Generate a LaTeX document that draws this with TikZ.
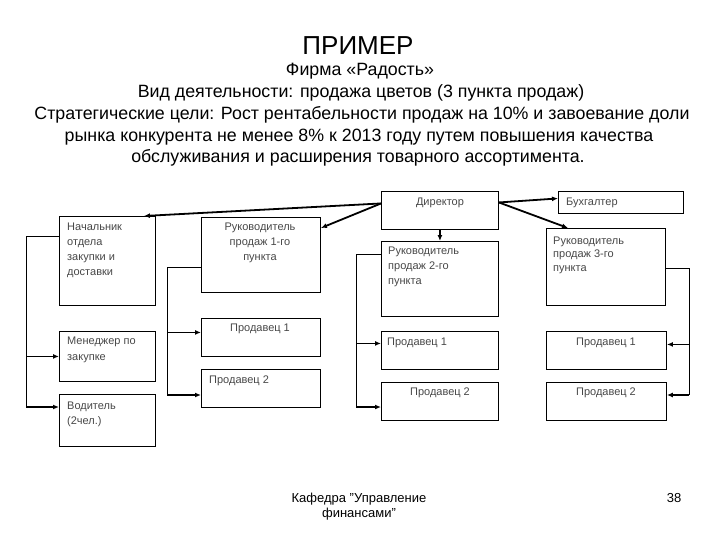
\documentclass[tikz,border=0pt]{standalone}
\usepackage{fontspec}
\setmainfont{Liberation Sans}
\usetikzlibrary{arrows.meta,calc}
\begin{document}
\begin{tikzpicture}[x=1pt,y=-1pt,
  box/.style={draw=black,line width=0.9pt,rectangle,inner sep=0pt,anchor=north west},
  btxt/.style={text=black!72,font=\fontsize{11}{15}\selectfont,inner sep=0pt},
  wire/.style={draw=black,line width=0.9pt},
  arr/.style={draw=black,line width=1.8pt,-{Latex[length=6pt,width=5pt]}},
  ttl/.style={font=\fontsize{17.8}{21.7}\selectfont,inner sep=0pt,anchor=base}]
\useasboundingbox (0,0) rectangle (720,540);
% titles
\node[font=\fontsize{26}{30}\selectfont,inner sep=0pt,anchor=base] (t0) at (358,55) {ПРИМЕР};
\node[ttl] (t1) at (360,76) {Фирма «Радость»};
\node[ttl] (t2) at (361,98) {Вид деятельности: продажа цветов (3 пункта продаж)};
\node[ttl] (t3) at (362,120) {Стратегические цели: Рост рентабельности продаж на 10\% и завоевание доли};
\node[ttl] (t4) at (359,142) {рынка конкурента не менее 8\% к 2013 году путем повышения качества};
\node[ttl] (t5) at (358,163) {обслуживания и расширения товарного ассортимента.};
% boxes
\node[box,minimum width=117pt,minimum height=38pt] (dir) at (381,191) {};
\node[box,minimum width=125pt,minimum height=22pt] (buh) at (558,191) {};
\node[box,minimum width=96pt,minimum height=89pt] (nach) at (59,216) {};
\node[box,minimum width=119pt,minimum height=75pt] (r1) at (201,217) {};
\node[box,minimum width=117pt,minimum height=75pt] (r2) at (381,241) {};
\node[box,minimum width=119pt,minimum height=77pt] (r3) at (546,228) {};
\node[box,minimum width=96pt,minimum height=50pt] (men) at (59,331) {};
\node[box,minimum width=96pt,minimum height=52pt] (vod) at (59,394) {};
\node[box,minimum width=119pt,minimum height=38pt] (s21) at (201,318) {};
\node[box,minimum width=119pt,minimum height=38pt] (s22) at (201,369) {};
\node[box,minimum width=117pt,minimum height=38pt] (s31) at (381,331) {};
\node[box,minimum width=117pt,minimum height=38pt] (s32) at (381,382) {};
\node[box,minimum width=120pt,minimum height=38pt] (s41) at (546,331) {};
\node[box,minimum width=120pt,minimum height=38pt] (s42) at (546,382) {};
% box texts (multi-line nodes: base = baseline of last line)
\node[btxt,anchor=base] (tdir) at (440,206) {Директор};
\node[btxt,anchor=base west] (tbuh) at (566,206) {Бухгалтер};
\node[btxt,anchor=base west,align=left] (tnach) at (67,275) {Начальник\\отдела\\закупки и\\доставки};
\node[btxt,anchor=base,align=center] (tr1) at (260,260) {Руководитель\\продаж 1-го\\пункта};
\node[btxt,anchor=base west,align=left] (tr2) at (388,284) {Руководитель\\продаж 2-го\\пункта};
\node[btxt,anchor=base west,align=left,font=\fontsize{11}{13.5}\selectfont] (tr3) at (553,271) {Руководитель\\продаж 3-го\\пункта};
\node[btxt,anchor=base west,align=left,font=\fontsize{11}{16}\selectfont] (tmen) at (67,360) {Менеджер по\\закупке};
\node[btxt,anchor=base west,align=left] (tvod) at (67,424) {Водитель\\(2чел.)};
\node[btxt,anchor=base] (ts21) at (260,331) {Продавец 1};
\node[btxt,anchor=base west] (ts22) at (209,383) {Продавец 2};
\node[btxt,anchor=base west] (ts31) at (387,345) {Продавец 1};
\node[btxt,anchor=base] (ts32) at (440,395) {Продавец 2};
\node[btxt,anchor=base] (ts41) at (606,345) {Продавец 1};
\node[btxt,anchor=base] (ts42) at (606,395) {Продавец 2};
% director connectors
\draw[arr] ([yshift=7pt]dir.west) -- ([xshift=-12pt]nach.north east);
\draw[arr] ([yshift=7pt]dir.west) -- ([yshift=-11pt]r1.north east);
\draw[arr] ([yshift=8pt]dir.east) -- ([yshift=4pt]buh.west);
\draw[arr] ([yshift=8pt]dir.east) -- ([xshift=22pt]r3.north west);
\draw[arr,line width=1.2pt] (dir.south) -- (r2.north);
% bus coordinates
\coordinate (lb1) at (26,236);
\coordinate (lb2) at (26,407);
\coordinate (b21) at (167,267);
\coordinate (b22) at (167,395);
\coordinate (b31) at (356,254);
\coordinate (b32) at (356,407);
\coordinate (b41) at (689,268);
\coordinate (b42) at (689,395);
% left bus
\draw[wire] ([yshift=-20pt]nach.north west) -- (lb1) -- (lb2);
\draw[arr] (lb1 |- men.west) -- (men.west);
\draw[arr] (lb2) -- (lb2 -| vod.west);
% column 2 bus
\draw[wire] ([yshift=-50pt]r1.north west) -- (b21) -- (b22);
\draw[arr] ([yshift=5pt]b21 |- s21.west) -- ([yshift=5pt]s21.west);
\draw[arr] (b22) -- (b22 -| s22.west);
% column 3 bus
\draw[wire] ([yshift=-13pt]r2.north west) -- (b31) -- (b32);
\draw[arr] ([yshift=7pt]b31 |- s31.west) -- ([yshift=7pt]s31.west);
\draw[arr] (b32) -- (b32 -| s32.west);
% column 4 bus
\draw[wire] ([yshift=-40pt]r3.north east) -- (b41) -- (b42);
\draw[arr] ([yshift=6pt]b41 |- s41.east) -- ([yshift=6pt]s41.east);
\draw[arr] (b42) -- (b42 -| s42.east);
% footer
\node[font=\fontsize{13}{15.5}\selectfont,align=center,inner sep=0pt,anchor=base] (foot) at (359,517.5) {Кафедра "Управление\\финансами"};
\node[font=\fontsize{13}{15.5}\selectfont,inner sep=0pt,anchor=base] (pg) at (674,502) {38};
\end{tikzpicture}
\end{document}
